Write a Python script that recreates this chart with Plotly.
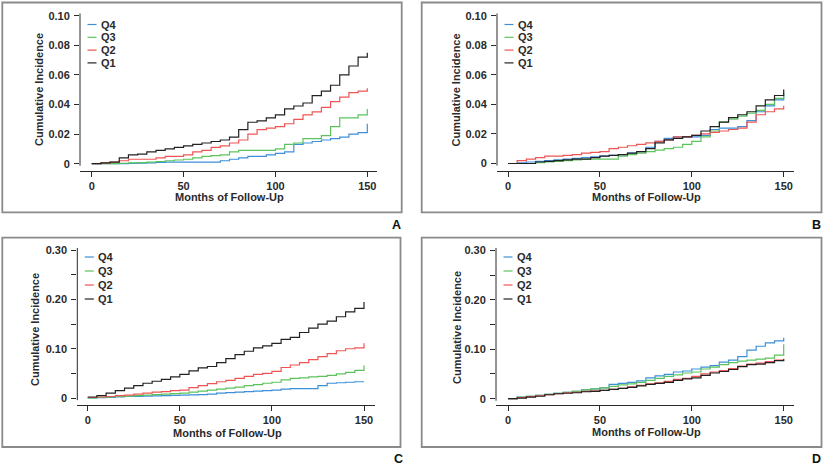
import plotly.graph_objects as go

# months of follow-up (grid used for every curve)
months = list(range(0, 151, 5))
series_names = ["Q4", "Q3", "Q2", "Q1"]
series_colors = ["#3d8fd9", "#5cc35c", "#f05555", "#222222"]

# panel A
a_q4 = [0, 0, 0, 0, 0.0002, 0.0004, 0.0005, 0.0008, 0.001, 0.001, 0.001, 0.001, 0.001, 0.001, 0.002, 0.003,
        0.004, 0.005, 0.005, 0.006, 0.007, 0.008, 0.013, 0.014, 0.015, 0.016, 0.017, 0.018, 0.020, 0.021, 0.027]
a_q3 = [0, 0, 0, 0.0003, 0.0005, 0.0007, 0.001, 0.0015, 0.002, 0.0025, 0.003, 0.004, 0.005, 0.0055, 0.006, 0.008,
        0.009, 0.009, 0.009, 0.009, 0.010, 0.013, 0.014, 0.017, 0.017, 0.019, 0.025, 0.031, 0.031, 0.033, 0.037]
a_q2 = [0, 0.0005, 0.001, 0.002, 0.003, 0.003, 0.003, 0.004, 0.005, 0.005, 0.006, 0.008, 0.009, 0.011, 0.012, 0.014,
        0.016, 0.020, 0.023, 0.024, 0.025, 0.027, 0.030, 0.033, 0.035, 0.038, 0.042, 0.045, 0.048, 0.049, 0.051]
a_q1 = [0, 0.0005, 0.001, 0.004, 0.006, 0.0065, 0.008, 0.009, 0.010, 0.011, 0.012, 0.013, 0.014, 0.015, 0.016, 0.018,
        0.023, 0.028, 0.029, 0.031, 0.033, 0.037, 0.039, 0.041, 0.046, 0.049, 0.053, 0.060, 0.066, 0.072, 0.075]

# panel B
b_q4 = [0, 0.0005, 0.001, 0.0015, 0.002, 0.0025, 0.003, 0.0035, 0.004, 0.0045, 0.005, 0.0055, 0.006, 0.007, 0.008, 0.011,
        0.015, 0.017, 0.018, 0.018, 0.018, 0.019, 0.023, 0.024, 0.024, 0.025, 0.029, 0.035, 0.039, 0.043, 0.046]
b_q3 = [0, 0, 0, 0.0005, 0.001, 0.0015, 0.002, 0.0025, 0.003, 0.003, 0.003, 0.003, 0.005, 0.006, 0.007, 0.008,
        0.009, 0.010, 0.011, 0.013, 0.015, 0.018, 0.022, 0.028, 0.030, 0.032, 0.034, 0.036, 0.040, 0.044, 0.048]
b_q2 = [0, 0.002, 0.003, 0.004, 0.005, 0.005, 0.0055, 0.006, 0.007, 0.0075, 0.008, 0.010, 0.011, 0.012, 0.013, 0.014,
        0.015, 0.016, 0.018, 0.018, 0.019, 0.020, 0.021, 0.022, 0.023, 0.024, 0.028, 0.033, 0.035, 0.037, 0.039]
b_q1 = [0, 0, 0, 0.001, 0.0015, 0.002, 0.0025, 0.003, 0.003, 0.004, 0.005, 0.0055, 0.006, 0.007, 0.008, 0.010,
        0.014, 0.016, 0.017, 0.018, 0.019, 0.022, 0.025, 0.028, 0.031, 0.033, 0.035, 0.039, 0.043, 0.046, 0.050]

# panel C
c_q4 = [0, 0.0005, 0.001, 0.002, 0.003, 0.0035, 0.004, 0.0045, 0.005, 0.0055, 0.006, 0.0065, 0.007, 0.008, 0.010, 0.011,
        0.012, 0.013, 0.014, 0.015, 0.016, 0.018, 0.019, 0.019, 0.019, 0.025, 0.030, 0.031, 0.032, 0.033, 0.033]
c_q3 = [0, 0.001, 0.002, 0.003, 0.004, 0.005, 0.006, 0.007, 0.008, 0.009, 0.010, 0.012, 0.014, 0.016, 0.018, 0.020,
        0.022, 0.025, 0.027, 0.030, 0.032, 0.037, 0.040, 0.041, 0.043, 0.044, 0.046, 0.049, 0.052, 0.056, 0.066]
c_q2 = [0.001, 0.002, 0.003, 0.005, 0.006, 0.008, 0.010, 0.012, 0.013, 0.015, 0.016, 0.021, 0.025, 0.029, 0.033, 0.036,
        0.040, 0.044, 0.048, 0.050, 0.054, 0.062, 0.067, 0.072, 0.078, 0.084, 0.090, 0.096, 0.100, 0.102, 0.111]
c_q1 = [0.002, 0.005, 0.010, 0.015, 0.020, 0.025, 0.030, 0.034, 0.038, 0.043, 0.048, 0.055, 0.061, 0.064, 0.072, 0.080,
        0.088, 0.095, 0.102, 0.106, 0.111, 0.119, 0.123, 0.133, 0.142, 0.150, 0.156, 0.165, 0.175, 0.182, 0.195]

# panel D
d_q4 = [0, 0.003, 0.005, 0.007, 0.009, 0.011, 0.013, 0.015, 0.018, 0.020, 0.022, 0.029, 0.031, 0.033, 0.036, 0.042,
        0.046, 0.049, 0.054, 0.056, 0.060, 0.064, 0.067, 0.074, 0.078, 0.085, 0.098, 0.106, 0.113, 0.117, 0.123]
d_q3 = [0, 0.003, 0.005, 0.007, 0.009, 0.011, 0.013, 0.015, 0.018, 0.020, 0.022, 0.025, 0.028, 0.030, 0.033, 0.037,
        0.041, 0.045, 0.048, 0.052, 0.054, 0.060, 0.064, 0.069, 0.073, 0.076, 0.078, 0.080, 0.082, 0.088, 0.110]
d_q2 = [0, 0.002, 0.004, 0.006, 0.008, 0.010, 0.012, 0.013, 0.015, 0.016, 0.017, 0.019, 0.021, 0.024, 0.027, 0.030,
        0.032, 0.035, 0.039, 0.041, 0.045, 0.050, 0.054, 0.057, 0.061, 0.066, 0.070, 0.072, 0.075, 0.078, 0.081]
d_q1 = [0, 0.001, 0.003, 0.005, 0.008, 0.010, 0.011, 0.012, 0.014, 0.015, 0.017, 0.019, 0.021, 0.023, 0.026, 0.029,
        0.031, 0.033, 0.037, 0.040, 0.042, 0.047, 0.052, 0.055, 0.059, 0.065, 0.069, 0.070, 0.073, 0.077, 0.080]

y_small = [0, 0.02, 0.04, 0.06, 0.08, 0.10]
y_small_text = ["0", "0.02", "0.04", "0.06", "0.08", "0.10"]
y_big = [0, 0.10, 0.20, 0.30]
y_big_text = ["0", "0.10", "0.20", "0.30"]
x_ticks = [0, 50, 100, 150]

W, H = 825, 465
FONT = "Liberation Sans, Arial, sans-serif"
INK = "#2a2a2a"
FS = 11

# pixel geometry per panel
panels = [
    dict(letter="A", data=[a_q4, a_q3, a_q2, a_q1], yt=y_small, ytt=y_small_text, minor=None,
         left=80, right=377, x0=91.7, x150=367.3, bottom=170.7, top=13.3, y0=163.7, ytop=15.7,
         box=(2.3, 2.5, 401.7, 212.3), letter_xy=(396.7, 224.5), ytitle=(39, 90), xtitle=(229.5, 197.3),
         leg_top=24.5, leg_gap=12.8),
    dict(letter="B", data=[b_q4, b_q3, b_q2, b_q1], yt=y_small, ytt=y_small_text, minor=None,
         left=497, right=793.7, x0=508, x150=783.7, bottom=170.7, top=13.3, y0=163.5, ytop=15.7,
         box=(421.7, 2.5, 821.5, 212.3), letter_xy=(816.3, 224.5), ytitle=(455.5, 90), xtitle=(646, 197.3),
         leg_top=24.5, leg_gap=12.8),
    dict(letter="C", data=[c_q4, c_q3, c_q2, c_q1], yt=y_big, ytt=y_big_text, minor=[0.05, 0.15, 0.25],
         left=77.3, right=375, x0=87.7, x150=364, bottom=404.7, top=245.3, y0=398, ytop=250.3,
         box=(2.3, 237.7, 400.5, 447), letter_xy=(398, 458.7), ytitle=(35, 330), xtitle=(227, 433),
         leg_top=257, leg_gap=14),
    dict(letter="D", data=[d_q4, d_q3, d_q2, d_q1], yt=y_big, ytt=y_big_text, minor=[0.05, 0.15, 0.25],
         left=496, right=793.7, x0=508, x150=783.7, bottom=404.7, top=245.3, y0=398.7, ytop=250.3,
         box=(421.7, 237.7, 821.5, 447), letter_xy=(816.3, 458.5), ytitle=(457, 328), xtitle=(646, 432),
         leg_top=257, leg_gap=14),
]


def px(x):
    return x / W


def py(y):
    return 1 - y / H


fig = go.Figure()
shapes = []
annotations = []
layout = {}

for i, p in enumerate(panels, start=1):
    sfx = "" if i == 1 else str(i)
    ymax = p["yt"][-1]
    sx = (p["x150"] - p["x0"]) / 150
    sy = (p["y0"] - p["ytop"]) / ymax
    xr = [(p["left"] - p["x0"]) / sx, (p["right"] - p["x0"]) / sx]
    yr = [(p["y0"] - p["bottom"]) / sy, (p["y0"] - p["top"]) / sy]

    for name, color, vals in zip(series_names, series_colors, p["data"]):
        fig.add_trace(go.Scatter(x=months, y=vals, mode="lines", line_shape="hv",
                                 line=dict(color=color, width=1.2), name=name, showlegend=False,
                                 xaxis="x" + sfx, yaxis="y" + sfx))

    tickfont = dict(family=FONT, size=FS, color=INK, weight="bold")
    layout["xaxis" + sfx] = dict(domain=[px(p["left"]), px(p["right"])], range=xr, anchor="y" + sfx,
                                 tickvals=x_ticks, ticks="outside", ticklen=5, tickwidth=1, tickcolor=INK,
                                 showline=True, linecolor=INK, linewidth=1, showgrid=False, zeroline=False,
                                 tickfont=tickfont, fixedrange=True, automargin=False)
    yax = dict(domain=[py(p["bottom"]), py(p["top"])], range=yr, anchor="x" + sfx,
               tickvals=p["yt"], ticktext=p["ytt"], ticks="outside", ticklen=5, tickwidth=1, tickcolor=INK,
               showline=False, showgrid=False, zeroline=False, tickfont=tickfont, ticklabelstandoff=2,
               automargin=False)
    if p["minor"]:
        yax["minor"] = dict(tickvals=p["minor"], ticks="outside", ticklen=5, tickwidth=1, tickcolor=INK,
                            showgrid=False)
    layout["yaxis" + sfx] = yax

    # y axis line spanning only the tick range
    shapes.append(dict(type="line", xref="paper", yref="y" + sfx, x0=px(p["left"]), x1=px(p["left"]),
                       y0=-ymax * 0.014, y1=ymax * 1.016, line=dict(color=INK, width=1)))
    # panel frame
    bx0, by0, bx1, by1 = p["box"]
    shapes.append(dict(type="rect", xref="paper", yref="paper", x0=px(bx0), x1=px(bx1), y0=py(by1), y1=py(by0),
                       line=dict(color="#8a8a8a", width=1.8)))

    # legend
    for k, (name, color) in enumerate(zip(series_names, series_colors)):
        ly = p["leg_top"] + k * p["leg_gap"]
        shapes.append(dict(type="line", xref="paper", yref="paper", x0=px(p["left"] + 7.5), x1=px(p["left"] + 16.5),
                           y0=py(ly), y1=py(ly), line=dict(color=color, width=1.2)))
        annotations.append(dict(text=name, xref="paper", yref="paper", x=px(p["left"] + 18.5), y=py(ly),
                                xanchor="left", yanchor="middle", showarrow=False,
                                font=dict(family=FONT, size=FS, color=INK, weight="bold")))

    annotations.append(dict(text="Cumulative Incidence", xref="paper", yref="paper", x=px(p["ytitle"][0]),
                            y=py(p["ytitle"][1]), textangle=-90, showarrow=False, xanchor="center",
                            yanchor="middle", font=dict(family=FONT, size=FS, color=INK, weight="bold")))
    annotations.append(dict(text="Months of Follow-Up", xref="paper", yref="paper", x=px(p["xtitle"][0]),
                            y=py(p["xtitle"][1]), showarrow=False, xanchor="center", yanchor="middle",
                            font=dict(family=FONT, size=FS, color=INK, weight="bold")))
    annotations.append(dict(text=p["letter"], xref="paper", yref="paper", x=px(p["letter_xy"][0]),
                            y=py(p["letter_xy"][1]), showarrow=False, xanchor="center", yanchor="middle",
                            font=dict(family=FONT, size=12.5, color="#111111", weight="bold")))

fig.update_layout(width=W, height=H, margin=dict(l=0, r=0, t=0, b=0, autoexpand=False), paper_bgcolor="white",
                  plot_bgcolor="white", showlegend=False, shapes=shapes, annotations=annotations, **layout)

# the default page keeps the browser's 8px body margin; drop it so the figure sits at the top-left
fig.write_html("out.html", config={"displayModeBar": False},
               post_script="document.body.style.margin='0';")
